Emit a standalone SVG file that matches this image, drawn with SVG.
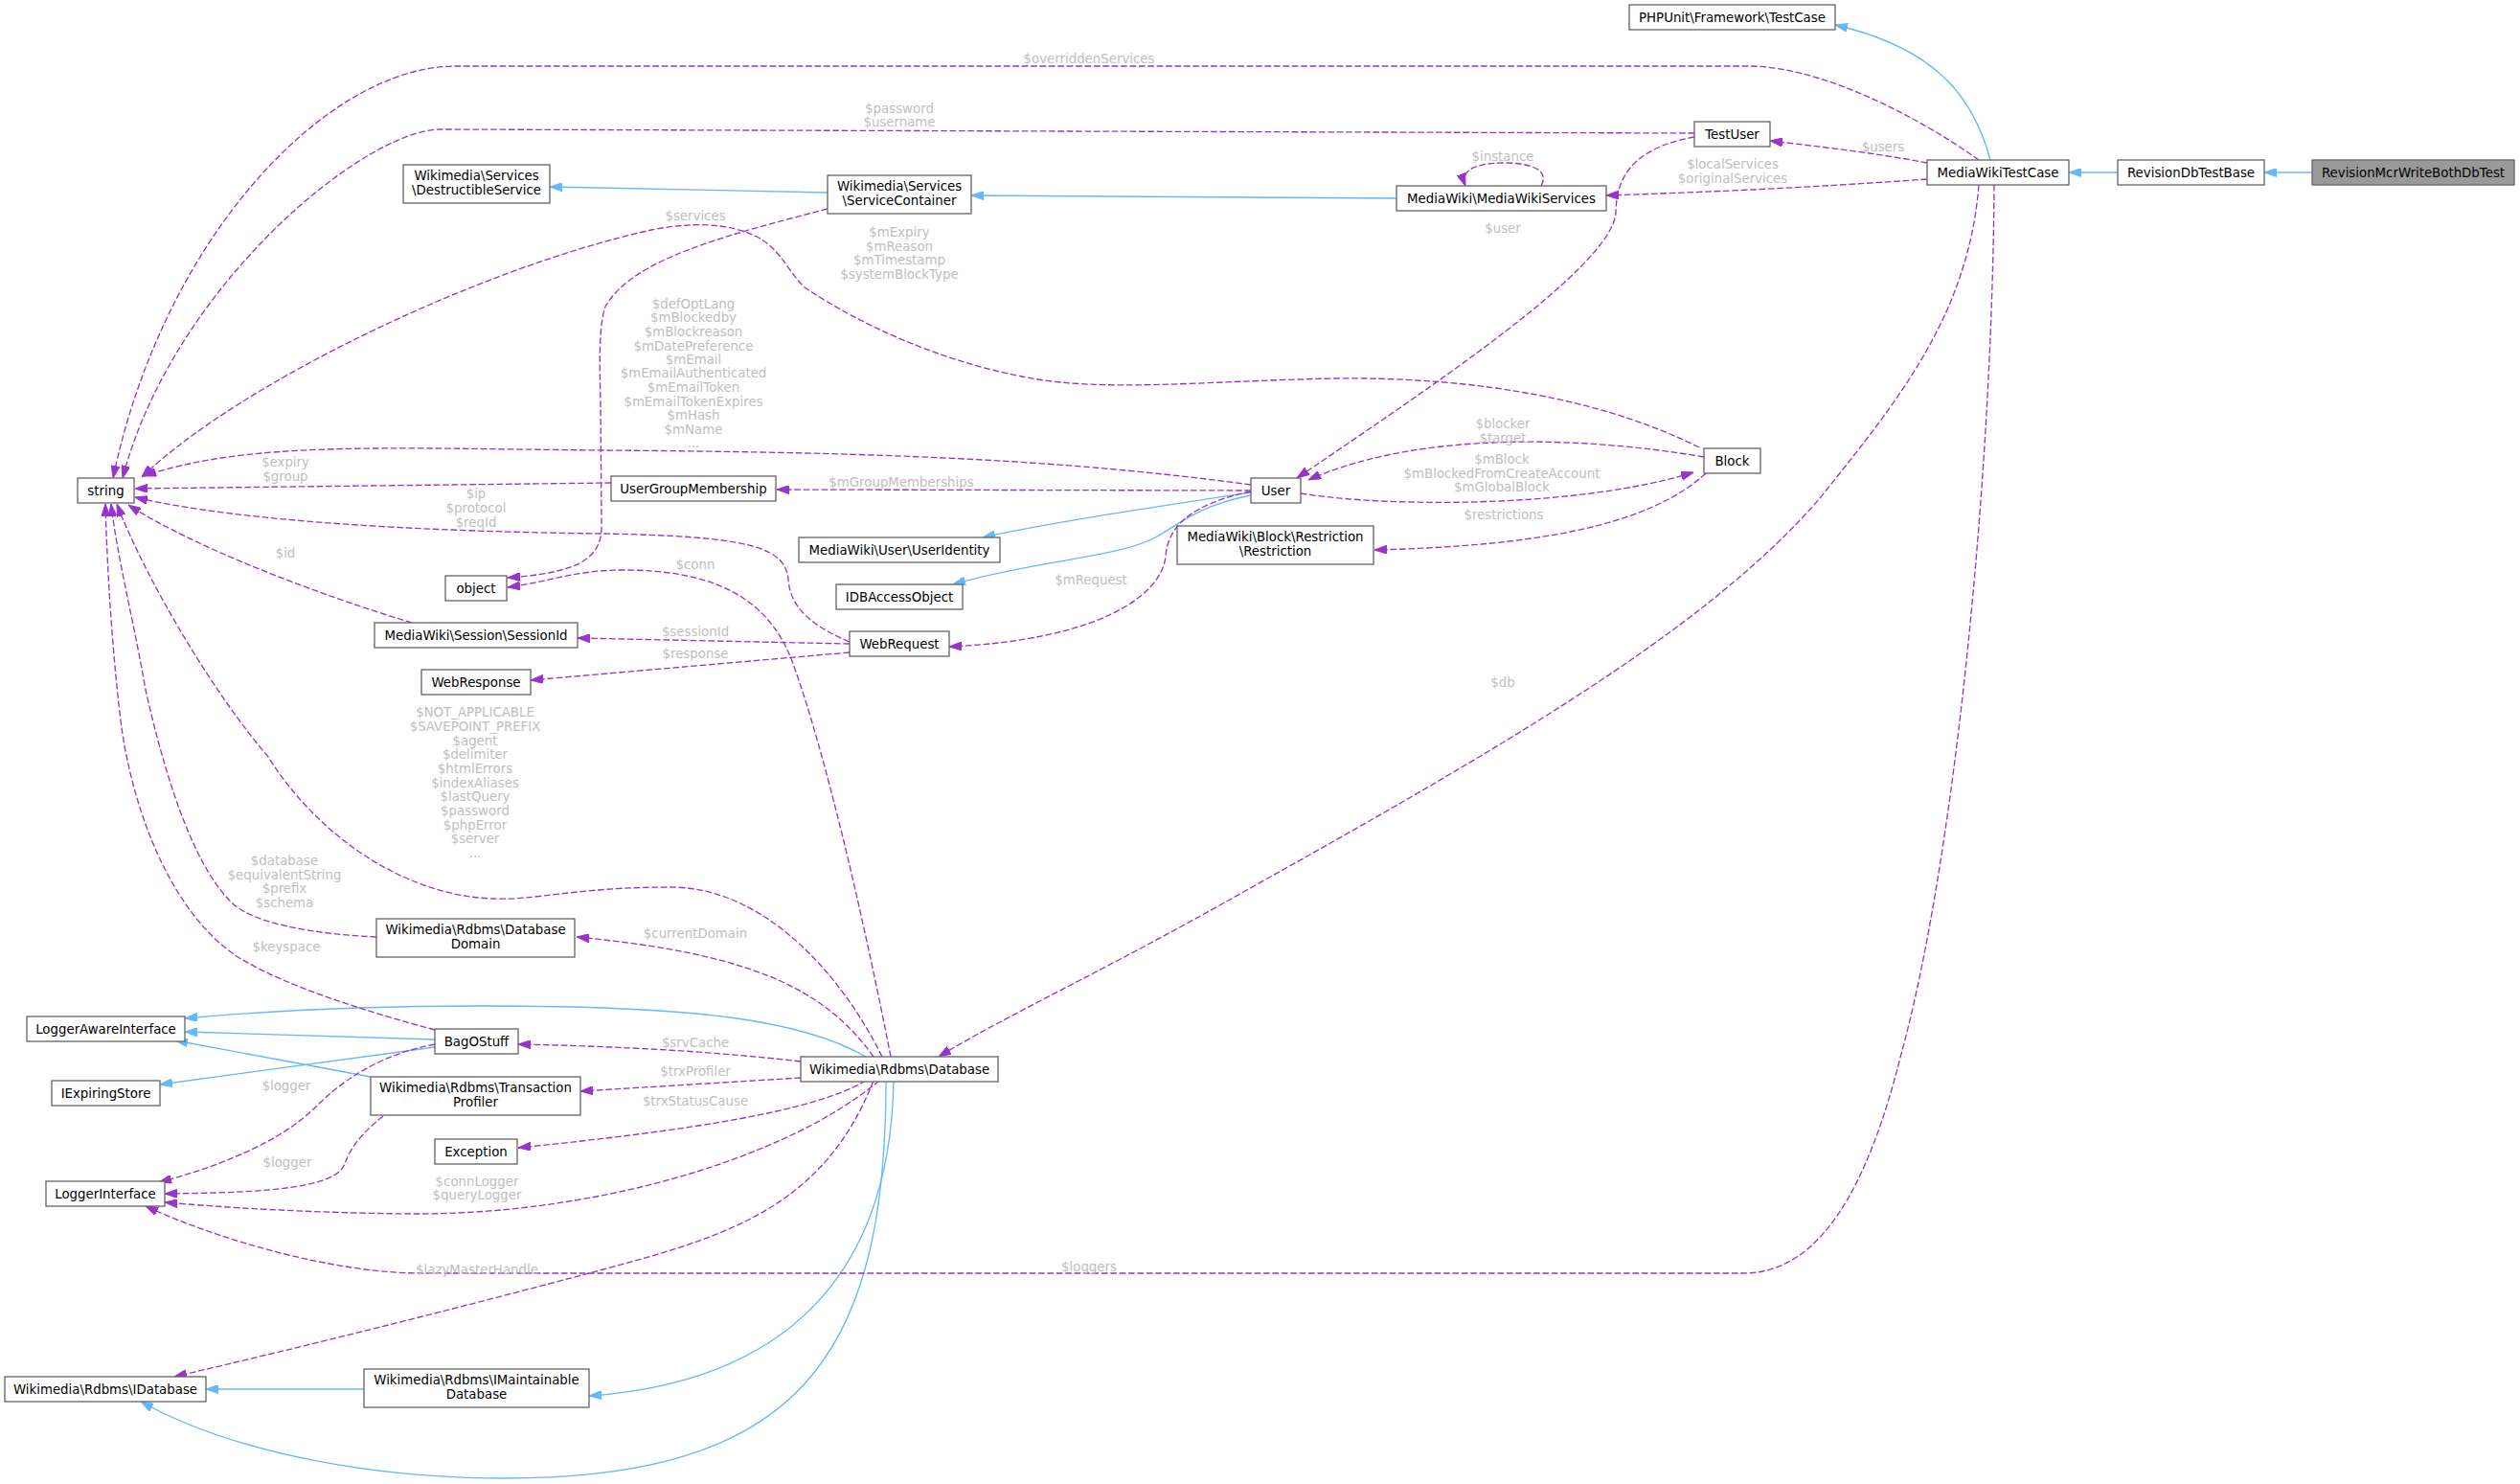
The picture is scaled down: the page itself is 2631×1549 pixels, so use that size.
<svg xmlns="http://www.w3.org/2000/svg" width="2631" height="1549" viewBox="0 0 2631 1549">
<style>
text{font-family:"DejaVu Sans","Liberation Sans",sans-serif;font-size:13.33px;text-anchor:middle;fill:#000}
.node rect{fill:#fff;stroke:#666;stroke-width:1.33}
.node.root rect{fill:#999}
.lbl{fill:#bebebe}
.u{fill:none;stroke:#9a32cd;stroke-width:1.33;stroke-dasharray:6.7,2.7;marker-end:url(#pa)}
.i{fill:none;stroke:#63b8ff;stroke-width:1.33;marker-end:url(#ba)}
</style>
<defs>
<marker id="pa" viewBox="0 0 13 9" refX="13" refY="4.5" markerWidth="13" markerHeight="9" markerUnits="userSpaceOnUse" orient="auto"><path d="M0,0 L13,4.5 L0,9 z" fill="#9a32cd" stroke="#9a32cd" stroke-width="1"/></marker>
<marker id="ba" viewBox="0 0 13 9" refX="13" refY="4.5" markerWidth="13" markerHeight="9" markerUnits="userSpaceOnUse" orient="auto"><path d="M0,0 L13,4.5 L0,9 z" fill="#63b8ff" stroke="#63b8ff" stroke-width="1"/></marker>
</defs>
<rect width="2631" height="1549" fill="#fff"/>
<g id="edges">
<!-- inheritance -->
<path class="i" d="M2414,180 L2364,180"/>
<path class="i" d="M2211,180 L2160,180"/>
<path class="i" d="M2078,167 C2060,100 2020,50 1916,26"/>
<path class="i" d="M1458,207 L1014,204"/>
<path class="i" d="M864,201 L574,195"/>
<path class="i" d="M1306,514 C1200,530 1100,545 1026,561"/>
<path class="i" d="M1306,517 C1250,528 1230,548 1208,560 C1170,582 1080,585 995,610"/>
<path class="i" d="M454,1085 L193,1077"/>
<path class="i" d="M454,1093 L167,1132"/>
<path class="i" d="M387,1124 L183,1086"/>
<path class="i" d="M904,1103 C830,1060 700,1050 500,1050 C380,1050 280,1055 193,1063"/>
<path class="i" d="M933,1128 C930,1300 850,1440 615,1457"/>
<path class="i" d="M925,1128 C925,1420 830,1543 526,1543 C400,1543 250,1520 147,1463"/>
<path class="i" d="M380,1450 L215,1450"/>
<!-- usage -->
<path class="u" d="M2066,167 C2000,120 1900,69 1825,69 L476,69 C340,69 170,250 118,499"/>
<path class="u" d="M1769,139 L460,135 C380,135 180,300 128,499"/>
<path class="u" d="M2012,170 C1960,160 1900,153 1848,147"/>
<path class="u" d="M2012,187 C1900,195 1800,200 1677,204"/>
<path class="u" d="M1609,194 C1618,178 1600,170 1570,170 C1540,170 1524,178 1530,194"/>
<path class="u" d="M1769,143 C1700,155 1687,190 1687,223 C1680,280 1500,400 1354,499"/>
<path class="u" d="M1779,477 C1650,455 1480,450 1366,501"/>
<path class="u" d="M1358,515 C1450,530 1650,530 1768,493"/>
<path class="u" d="M1781,494 C1720,550 1600,570 1435,574"/>
<path class="u" d="M1306,512 L811,511"/>
<path class="u" d="M638,504 L141,510"/>
<path class="u" d="M1306,506 C1100,478 900,472 630,470 C400,468 260,460 150,497"/>
<path class="u" d="M887,670 C840,650 825,630 823,605 C820,570 780,560 630,557 C450,555 250,545 141,519"/>
<path class="u" d="M430,650 C330,620 200,570 134,527"/>
<path class="u" d="M887,672 L603,666"/>
<path class="u" d="M887,681 L554,710"/>
<path class="u" d="M1306,513 C1250,525 1220,545 1217,580 C1214,620 1150,668 991,675"/>
<path class="u" d="M864,218 C760,245 660,270 632,320 C625,340 626,380 627,420 L628,550 C628,585 600,598 530,603"/>
<path class="u" d="M930,1103 C900,950 860,780 827,690 C800,620 740,595 650,595 C600,595 570,608 530,613"/>
<path class="u" d="M1774,467 C1680,420 1550,393 1392,395 C1250,398 1150,410 1067,393 C980,376 900,340 840,300 C820,280 815,260 790,247 C760,232 720,232 680,240 C500,280 250,400 148,498"/>
<path class="u" d="M921,1103 C880,1020 800,926 700,926 C600,926 560,940 515,938 C420,935 330,870 280,790 C220,720 150,600 122,526"/>
<path class="u" d="M393,978 C330,975 270,965 245,945 C200,905 170,800 152,720 C140,650 122,580 116,526"/>
<path class="u" d="M454,1075 C380,1055 300,1030 250,1000 C180,955 140,850 127,760 C118,690 112,600 110,526"/>
<path class="u" d="M912,1103 C860,1030 780,995 602,978"/>
<path class="u" d="M836,1108 C750,1098 650,1092 541,1090"/>
<path class="u" d="M836,1125 L606,1139"/>
<path class="u" d="M904,1128 C850,1160 720,1180 541,1198"/>
<path class="u" d="M918,1128 C820,1210 620,1268 430,1267 C320,1266 230,1260 172,1255"/>
<path class="u" d="M400,1165 C375,1185 365,1200 360,1215 C350,1240 280,1245 172,1246"/>
<path class="u" d="M454,1090 C400,1100 360,1125 330,1155 C290,1195 220,1220 166,1234"/>
<path class="u" d="M912,1128 C860,1260 760,1290 630,1325 C480,1365 320,1405 182,1437"/>
<path class="u" d="M2082,193 C2080,500 2040,900 1985,1100 C1950,1240 1900,1329 1820,1329 L440,1329 C350,1329 230,1295 152,1259"/>
<path class="u" d="M2066,193 C2055,330 1980,420 1900,520 C1780,660 1550,790 1300,930 C1150,1015 1050,1060 980,1103"/>
<!-- labels -->
<g class="lbl">
<text class="lbl" x="1137" y="66">$overriddenServices</text>
<text class="lbl" x="939" y="118">$password</text>
<text class="lbl" x="939" y="132">$username</text>
<text class="lbl" x="726" y="230">$services</text>
<text class="lbl" x="939" y="247">$mExpiry</text>
<text class="lbl" x="939" y="262">$mReason</text>
<text class="lbl" x="939" y="276">$mTimestamp</text>
<text class="lbl" x="939" y="291">$systemBlockType</text>
<text class="lbl" x="1569" y="168">$instance</text>
<text class="lbl" x="1569" y="243">$user</text>
<text class="lbl" x="1809" y="176">$localServices</text>
<text class="lbl" x="1809" y="191">$originalServices</text>
<text class="lbl" x="1966" y="158">$users</text>
<text class="lbl" x="724" y="322">$defOptLang</text>
<text class="lbl" x="724" y="336">$mBlockedby</text>
<text class="lbl" x="724" y="351">$mBlockreason</text>
<text class="lbl" x="724" y="366">$mDatePreference</text>
<text class="lbl" x="724" y="380">$mEmail</text>
<text class="lbl" x="724" y="394">$mEmailAuthenticated</text>
<text class="lbl" x="724" y="409">$mEmailToken</text>
<text class="lbl" x="724" y="424">$mEmailTokenExpires</text>
<text class="lbl" x="724" y="438">$mHash</text>
<text class="lbl" x="724" y="453">$mName</text>
<text class="lbl" x="724" y="467">...</text>
<text class="lbl" x="298" y="487">$expiry</text>
<text class="lbl" x="298" y="502">$group</text>
<text class="lbl" x="941" y="508">$mGroupMemberships</text>
<text class="lbl" x="497" y="520">$ip</text>
<text class="lbl" x="497" y="535">$protocol</text>
<text class="lbl" x="497" y="550">$reqId</text>
<text class="lbl" x="298" y="582">$id</text>
<text class="lbl" x="726" y="594">$conn</text>
<text class="lbl" x="726" y="664">$sessionId</text>
<text class="lbl" x="726" y="687">$response</text>
<text class="lbl" x="1139" y="610">$mRequest</text>
<text class="lbl" x="1569" y="447">$blocker</text>
<text class="lbl" x="1569" y="462">$target</text>
<text class="lbl" x="1568" y="484">$mBlock</text>
<text class="lbl" x="1568" y="499">$mBlockedFromCreateAccount</text>
<text class="lbl" x="1568" y="513">$mGlobalBlock</text>
<text class="lbl" x="1570" y="542">$restrictions</text>
<text class="lbl" x="1569" y="717">$db</text>
<text class="lbl" x="496" y="748">$NOT_APPLICABLE</text>
<text class="lbl" x="496" y="763">$SAVEPOINT_PREFIX</text>
<text class="lbl" x="496" y="778">$agent</text>
<text class="lbl" x="496" y="792">$delimiter</text>
<text class="lbl" x="496" y="807">$htmlErrors</text>
<text class="lbl" x="496" y="822">$indexAliases</text>
<text class="lbl" x="496" y="836">$lastQuery</text>
<text class="lbl" x="496" y="851">$password</text>
<text class="lbl" x="496" y="866">$phpError</text>
<text class="lbl" x="496" y="880">$server</text>
<text class="lbl" x="496" y="895">...</text>
<text class="lbl" x="297" y="903">$database</text>
<text class="lbl" x="297" y="918">$equivalentString</text>
<text class="lbl" x="297" y="932">$prefix</text>
<text class="lbl" x="297" y="947">$schema</text>
<text class="lbl" x="299" y="993">$keyspace</text>
<text class="lbl" x="726" y="979">$currentDomain</text>
<text class="lbl" x="726" y="1093">$srvCache</text>
<text class="lbl" x="726" y="1123">$trxProfiler</text>
<text class="lbl" x="726" y="1154">$trxStatusCause</text>
<text class="lbl" x="299" y="1138">$logger</text>
<text class="lbl" x="300" y="1218">$logger</text>
<text class="lbl" x="498" y="1238">$connLogger</text>
<text class="lbl" x="498" y="1252">$queryLogger</text>
<text class="lbl" x="498" y="1330">$lazyMasterHandle</text>
<text class="lbl" x="1137" y="1327">$loggers</text>
</g>
</g>
<g id="n-RevisionMcrWriteBothDbTest" class="node root"><rect x="2414" y="167" width="211" height="26"/><text x="2519.5" y="184.5">RevisionMcrWriteBothDbTest</text></g>
<g id="n-RevisionDbTestBase" class="node"><rect x="2211" y="167" width="153" height="26"/><text x="2287.5" y="184.5">RevisionDbTestBase</text></g>
<g id="n-MediaWikiTestCase" class="node"><rect x="2012" y="167" width="148" height="26"/><text x="2086" y="184.5">MediaWikiTestCase</text></g>
<g id="n-TestCase" class="node"><rect x="1701" y="5" width="215" height="26"/><text x="1808.5" y="22.5">PHPUnit\Framework\TestCase</text></g>
<g id="n-TestUser" class="node"><rect x="1769" y="127" width="79" height="26"/><text x="1808.5" y="144.5">TestUser</text></g>
<g id="n-MediaWikiServices" class="node"><rect x="1458" y="194" width="219" height="26"/><text x="1567.5" y="211.5">MediaWiki\MediaWikiServices</text></g>
<g id="n-ServiceContainer" class="node"><rect x="864" y="183" width="150" height="40"/><text x="939" y="199">Wikimedia\Services</text><text x="939" y="214">\ServiceContainer</text></g>
<g id="n-DestructibleService" class="node"><rect x="421" y="172" width="153" height="40"/><text x="497.5" y="188">Wikimedia\Services</text><text x="497.5" y="203">\DestructibleService</text></g>
<g id="n-string" class="node"><rect x="81" y="499" width="59" height="26"/><text x="110.5" y="516.5">string</text></g>
<g id="n-User" class="node"><rect x="1306" y="499" width="52" height="26"/><text x="1332" y="516.5">User</text></g>
<g id="n-Block" class="node"><rect x="1779" y="468" width="59" height="26"/><text x="1808.5" y="485.5">Block</text></g>
<g id="n-UserGroupMembership" class="node"><rect x="638" y="497" width="172" height="26"/><text x="724" y="514.5">UserGroupMembership</text></g>
<g id="n-UserIdentity" class="node"><rect x="834" y="561" width="210" height="26"/><text x="939" y="578.5">MediaWiki\User\UserIdentity</text></g>
<g id="n-IDBAccessObject" class="node"><rect x="873" y="610" width="132" height="26"/><text x="939" y="627.5">IDBAccessObject</text></g>
<g id="n-Restriction" class="node"><rect x="1229" y="549" width="205" height="40"/><text x="1331.5" y="565">MediaWiki\Block\Restriction</text><text x="1331.5" y="580">\Restriction</text></g>
<g id="n-object" class="node"><rect x="465" y="601" width="64" height="26"/><text x="497" y="618.5">object</text></g>
<g id="n-SessionId" class="node"><rect x="391" y="650" width="212" height="26"/><text x="497" y="667.5">MediaWiki\Session\SessionId</text></g>
<g id="n-WebRequest" class="node"><rect x="887" y="659" width="104" height="26"/><text x="939" y="676.5">WebRequest</text></g>
<g id="n-WebResponse" class="node"><rect x="440" y="699" width="114" height="26"/><text x="497" y="716.5">WebResponse</text></g>
<g id="n-DatabaseDomain" class="node"><rect x="393" y="959" width="207" height="40"/><text x="496.5" y="975">Wikimedia\Rdbms\Database</text><text x="496.5" y="990">Domain</text></g>
<g id="n-LoggerAwareInterface" class="node"><rect x="28" y="1061" width="165" height="26"/><text x="110.5" y="1078.5">LoggerAwareInterface</text></g>
<g id="n-BagOStuff" class="node"><rect x="454" y="1074" width="87" height="26"/><text x="497.5" y="1091.5">BagOStuff</text></g>
<g id="n-IExpiringStore" class="node"><rect x="54" y="1128" width="113" height="26"/><text x="110.5" y="1145.5">IExpiringStore</text></g>
<g id="n-TransactionProfiler" class="node"><rect x="387" y="1124" width="219" height="40"/><text x="496.5" y="1140">Wikimedia\Rdbms\Transaction</text><text x="496.5" y="1155">Profiler</text></g>
<g id="n-Database" class="node"><rect x="836" y="1103" width="206" height="26"/><text x="939" y="1120.5">Wikimedia\Rdbms\Database</text></g>
<g id="n-Exception" class="node"><rect x="454" y="1189" width="86" height="26"/><text x="497" y="1206.5">Exception</text></g>
<g id="n-LoggerInterface" class="node"><rect x="48" y="1233" width="124" height="26"/><text x="110" y="1250.5">LoggerInterface</text></g>
<g id="n-IDatabase" class="node"><rect x="5" y="1437" width="210" height="26"/><text x="110" y="1454.5">Wikimedia\Rdbms\IDatabase</text></g>
<g id="n-IMaintainableDatabase" class="node"><rect x="380" y="1429" width="235" height="40"/><text x="497.5" y="1445">Wikimedia\Rdbms\IMaintainable</text><text x="497.5" y="1460">Database</text></g>
</svg>
